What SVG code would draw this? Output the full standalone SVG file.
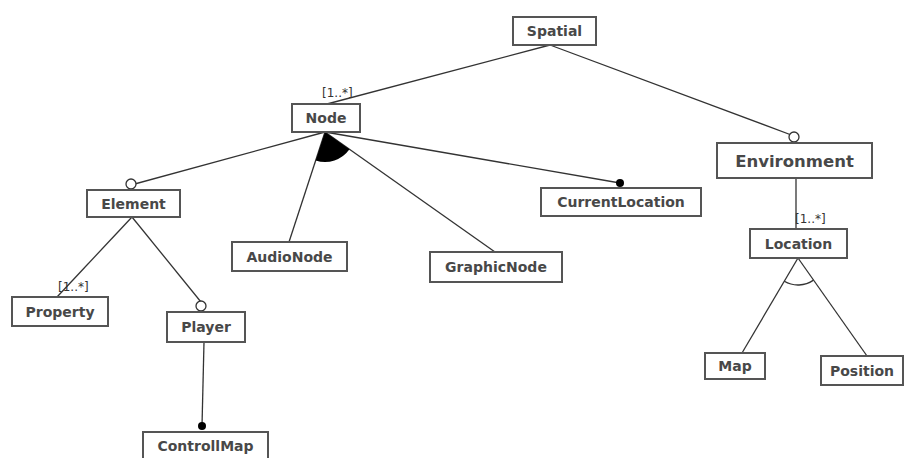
<svg xmlns="http://www.w3.org/2000/svg" width="904" height="458" viewBox="0 0 904 458">
<style>
.box{fill:#fff;stroke:#555;stroke-width:2}
.t{font-family:"DejaVu Sans",sans-serif;font-weight:bold;font-size:14px;fill:#484848;text-anchor:middle}
.big{font-size:16.5px}
.lbl{font-family:"DejaVu Sans",sans-serif;font-size:12px;fill:#333}
.ln{stroke:#333;stroke-width:1.3;fill:none}
.oc{fill:#fff;stroke:#333;stroke-width:1.3}
.fc{fill:#000}
</style>
<rect width="904" height="458" fill="#fff"/>
<g id="connectors">
<line class="ln" x1="550" y1="45" x2="327" y2="104"/>
<line class="ln" x1="550" y1="45" x2="794" y2="136"/>
<line class="ln" x1="325" y1="132" x2="131" y2="185"/>
<line class="ln" x1="325" y1="132" x2="289" y2="242"/>
<line class="ln" x1="325" y1="132" x2="495" y2="252"/>
<line class="ln" x1="325" y1="132" x2="620" y2="183"/>
<path class="fc" d="M325,132 L349.5,149.3 A30,30 0 0 1 315.7,160.5 Z"/>
<line class="ln" x1="132" y1="217" x2="57" y2="297"/>
<line class="ln" x1="132" y1="217" x2="201" y2="302"/>
<line class="ln" x1="204" y1="342" x2="202" y2="426"/>
<line class="ln" x1="796" y1="178" x2="796" y2="229"/>
<line class="ln" x1="798" y1="258" x2="742" y2="353"/>
<line class="ln" x1="798" y1="258" x2="867" y2="356"/>
<path class="ln" d="M784.3,281.3 A27,27 0 0 0 813.5,280.1"/>
<circle class="oc" cx="131" cy="184" r="5"/>
<circle class="oc" cx="201" cy="306" r="5"/>
<circle class="oc" cx="794" cy="137" r="5"/>
<circle class="fc" cx="620" cy="183" r="4"/>
<circle class="fc" cx="202" cy="426" r="4"/>
<text class="lbl" x="322" y="97">[1..*]</text>
<text class="lbl" x="795" y="223">[1..*]</text>
<text class="lbl" x="58" y="291">[1..*]</text>
</g>
<g id="spatial"><rect class="box" x="513" y="17" width="83" height="28"/><text class="t" x="554.5" y="36">Spatial</text></g>
<g id="node"><rect class="box" x="292" y="104" width="68" height="28"/><text class="t" x="326" y="123">Node</text></g>
<g id="element"><rect class="box" x="87" y="190" width="93" height="27"/><text class="t" x="133.5" y="208.5">Element</text></g>
<g id="currentlocation"><rect class="box" x="541" y="188" width="160" height="28"/><text class="t" x="621" y="207">CurrentLocation</text></g>
<g id="environment"><rect class="box" x="717" y="143" width="155" height="35"/><text class="t big" x="794.5" y="166.5">Environment</text></g>
<g id="location"><rect class="box" x="750" y="229" width="97" height="29"/><text class="t" x="798.5" y="248.5">Location</text></g>
<g id="property"><rect class="box" x="12" y="297" width="96" height="29"/><text class="t" x="60" y="316.5">Property</text></g>
<g id="player"><rect class="box" x="167" y="312" width="78" height="30"/><text class="t" x="206" y="332">Player</text></g>
<g id="audionode"><rect class="box" x="232" y="242" width="115" height="29"/><text class="t" x="289.5" y="261.5">AudioNode</text></g>
<g id="graphicnode"><rect class="box" x="430" y="252" width="132" height="30"/><text class="t" x="496" y="272">GraphicNode</text></g>
<g id="map"><rect class="box" x="705" y="353" width="60" height="26"/><text class="t" x="735" y="371">Map</text></g>
<g id="position"><rect class="box" x="821" y="356" width="82" height="29"/><text class="t" x="862" y="375.5">Position</text></g>
<g id="controllmap"><rect class="box" x="143" y="432" width="125" height="28"/><text class="t" x="205.5" y="450.5">ControllMap</text></g>
</svg>
